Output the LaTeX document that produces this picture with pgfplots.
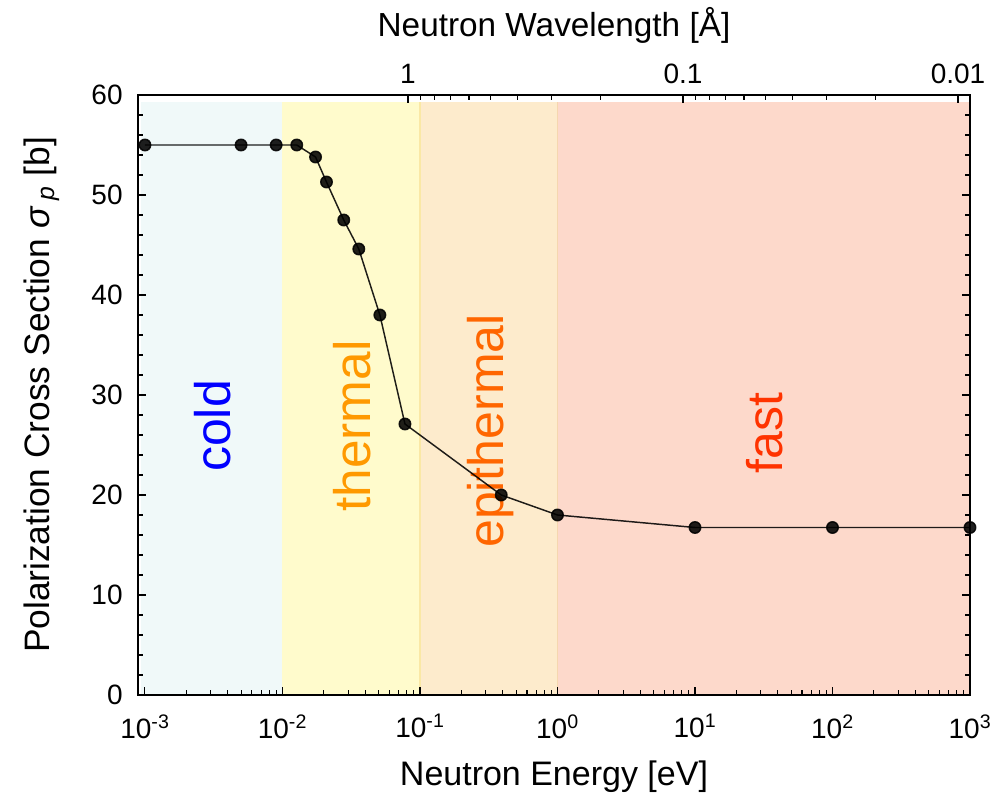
\documentclass[border=0pt]{standalone}
\usepackage{pgfplots}
\pgfplotsset{compat=1.18}
\usepackage{fontspec}
\setmainfont{Liberation Sans}
\definecolor{coldbg}{HTML}{F0F9F9}
\definecolor{thermbg}{HTML}{FFFBCC}
\definecolor{epibg}{HTML}{FDEBCC}
\definecolor{fastbg}{HTML}{FDD9CB}
\definecolor{coldtxt}{HTML}{0000FF}
\definecolor{thermtxt}{HTML}{FF9900}
\definecolor{epitxt}{HTML}{FF6600}
\definecolor{fasttxt}{HTML}{FF3300}
\pgfplotstableread{
E sigma
0.001 55.0
0.005 55.0
0.009 55.0
0.0127 55.0
0.0174 53.8
0.0209 51.3
0.0279 47.5
0.0359 44.6
0.0511 38.0
0.0778 27.1
0.39 20.0
1.0 18.0
10 16.75
100 16.75
1000 16.75
}\datatable
\begin{document}
\begin{tikzpicture}
\useasboundingbox (-103.5pt,-82.5pt) rectangle (644.25pt,521.25pt);
\begin{axis}[
  scale only axis, width=624pt, height=450pt,
  xmode=log, xmin=8.9e-4, xmax=1000, ymin=0, ymax=60,
  axis on top,
  clip=false,
  xtick={1e-3,1e-2,1e-1,1,10,100,1000},
  xticklabels={10\textsuperscript{-3},10\textsuperscript{-2},10\textsuperscript{-1},10\textsuperscript{0},10\textsuperscript{1},10\textsuperscript{2},10\textsuperscript{3}},
  xtick pos=lower, ytick pos=both,
  ytick={0,10,20,30,40,50,60}, minor y tick num=4,
  /pgf/number format/assume math mode=true,
  tick label style={font=\fontsize{21}{23}\selectfont},
  x tick label style={yshift=-11pt},
  y tick label style={xshift=-8pt},
  label style={font=\fontsize{25.5}{27}\selectfont},
  xlabel={Neutron Energy [eV]},
  xlabel style={at={(axis description cs:0.5,-0.1367)}, anchor=center},
  ylabel={Polarization Cross Section \textit{σ}\,\textsubscript{\textit{p}} [b]},
  ylabel style={at={(axis description cs:-0.1154,0.5)}, anchor=center, rotate=0, font=\fontsize{26.5}{28}\selectfont},
  major tick length=6pt, minor tick length=3.5pt,
  every tick/.style={black, line width=0.8pt},
  axis line style={black, line width=1pt},
]
\fill[coldbg] (axis cs:9.35e-4,0) rectangle (axis cs:0.01,59.3);
\fill[thermbg] (axis cs:0.01,0) rectangle (axis cs:0.1,59.3);
\fill[epibg] (axis cs:0.1,0) rectangle (axis cs:1,59.3);
\fill[fastbg] (axis cs:1,0) rectangle (axis cs:1000,59.3);
\draw[color={rgb,255:red,250;green,232;blue,165}, line width=0.8pt] (axis cs:0.1,0) -- (axis cs:0.1,59.3);
\draw[color={rgb,255:red,245;green,215;blue,175}, line width=0.8pt] (axis cs:1,0) -- (axis cs:1,59.3);
\node[rotate=90, coldtxt, font=\fontsize{37.5}{39}\selectfont] at (axis cs:3.09e-3,26.9) {cold};
\node[rotate=90, thermtxt, font=\fontsize{38.5}{40}\selectfont] at (axis cs:0.0322,26.9) {thermal};
\node[rotate=90, epitxt, font=\fontsize{37.5}{39}\selectfont] at (axis cs:0.324,26.4) {epithermal};
\node[rotate=90, fasttxt, font=\fontsize{37.5}{39}\selectfont] at (axis cs:32.2,26.2) {fast};
\addplot[black, opacity=0.88, line width=1.1pt, mark=*, mark size=4.3pt, mark options={solid}] table[x=E, y=sigma] {\datatable};
\end{axis}
\begin{axis}[
  scale only axis, width=624pt, height=450pt,
  xmode=log, x dir=reverse,
  xmin=0.009045, xmax=9.59, ymin=0, ymax=1,
  axis x line*=top, axis y line=none,
  xtick={0.01,0.1,1}, xticklabels={0.01,0.1,1},
  /pgf/number format/assume math mode=true,
  tick label style={font=\fontsize{21}{23}\selectfont},
  x tick label style={yshift=5pt},
  label style={font=\fontsize{25}{27}\selectfont},
  xlabel={Neutron Wavelength [Å]},
  xlabel style={at={(axis description cs:0.5,1.1167)}, anchor=center},
  major tick length=6pt, minor tick length=3.5pt,
  every tick/.style={black, line width=0.8pt},
  axis line style={black, line width=1pt, -},
]
\end{axis}
\end{tikzpicture}
\end{document}
